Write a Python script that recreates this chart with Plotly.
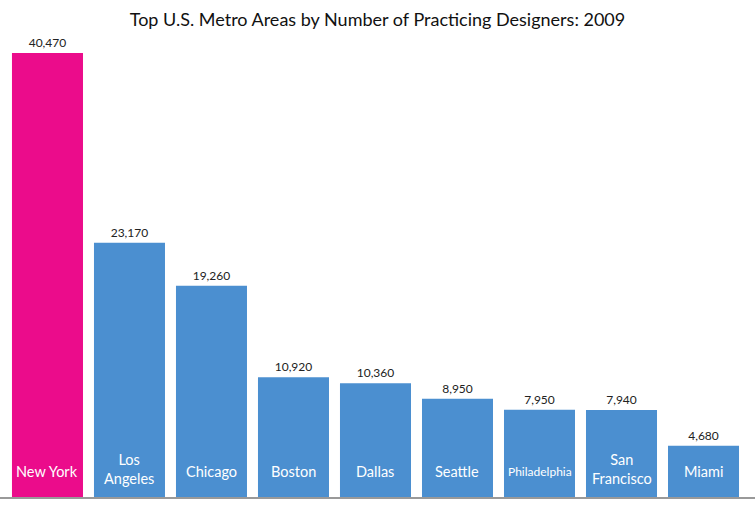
import plotly.graph_objects as go

cities = ["New York", "Los Angeles", "Chicago", "Boston", "Dallas", "Seattle",
          "Philadelphia", "San Francisco", "Miami"]
labels = ["New York", "Los<br>Angeles", "Chicago", "Boston", "Dallas", "Seattle",
          "Philadelphia", "San<br>Francisco", "Miami"]
designers = [40470, 23170, 19260, 10920, 10360, 8950, 7950, 7940, 4680]

PINK = "#EB0C8B"
BLUE = "#4B8FD0"
colors = [PINK] + [BLUE] * (len(cities) - 1)
FONT = "Lato, 'Noto Sans', sans-serif"

fig = go.Figure(go.Bar(
    x=cities, y=designers,
    marker=dict(color=colors, line=dict(width=0)),
    text=[f"{v:,}" for v in designers],
    textposition="outside",
    textfont=dict(size=12, color="#222222", family=FONT),
    cliponaxis=False,
    hoverinfo="skip",
))

for c, lab in zip(cities, labels):
    fig.add_annotation(
        x=c, y=0, text=lab, showarrow=False, yanchor="middle",
        yshift=28 if "<br>" in lab else 26,
        font=dict(size=12 if lab == "Philadelphia" else 14.5, color="white", family=FONT),
    )

fig.update_layout(
    width=755, height=515,
    margin=dict(l=0, r=0, t=40, b=18),
    paper_bgcolor="white", plot_bgcolor="white",
    bargap=0.134,
    showlegend=False,
    title=dict(text="Top U.S. Metro Areas by Number of Practicing Designers: 2009",
               x=0.5, xanchor="center", y=0.961, yanchor="middle",
               font=dict(size=18, color="#111111", family=FONT)),
    xaxis=dict(range=[-0.579, 8.628], showticklabels=False, showgrid=False,
               zeroline=False, showline=True, linecolor="#999999", linewidth=2,
               ticks=""),
    yaxis=dict(range=[0, 41660], visible=False, showgrid=False, zeroline=False),
)

fig.write_html("out.html", config={"displayModeBar": False},
               post_script="document.body.style.margin='0';")
